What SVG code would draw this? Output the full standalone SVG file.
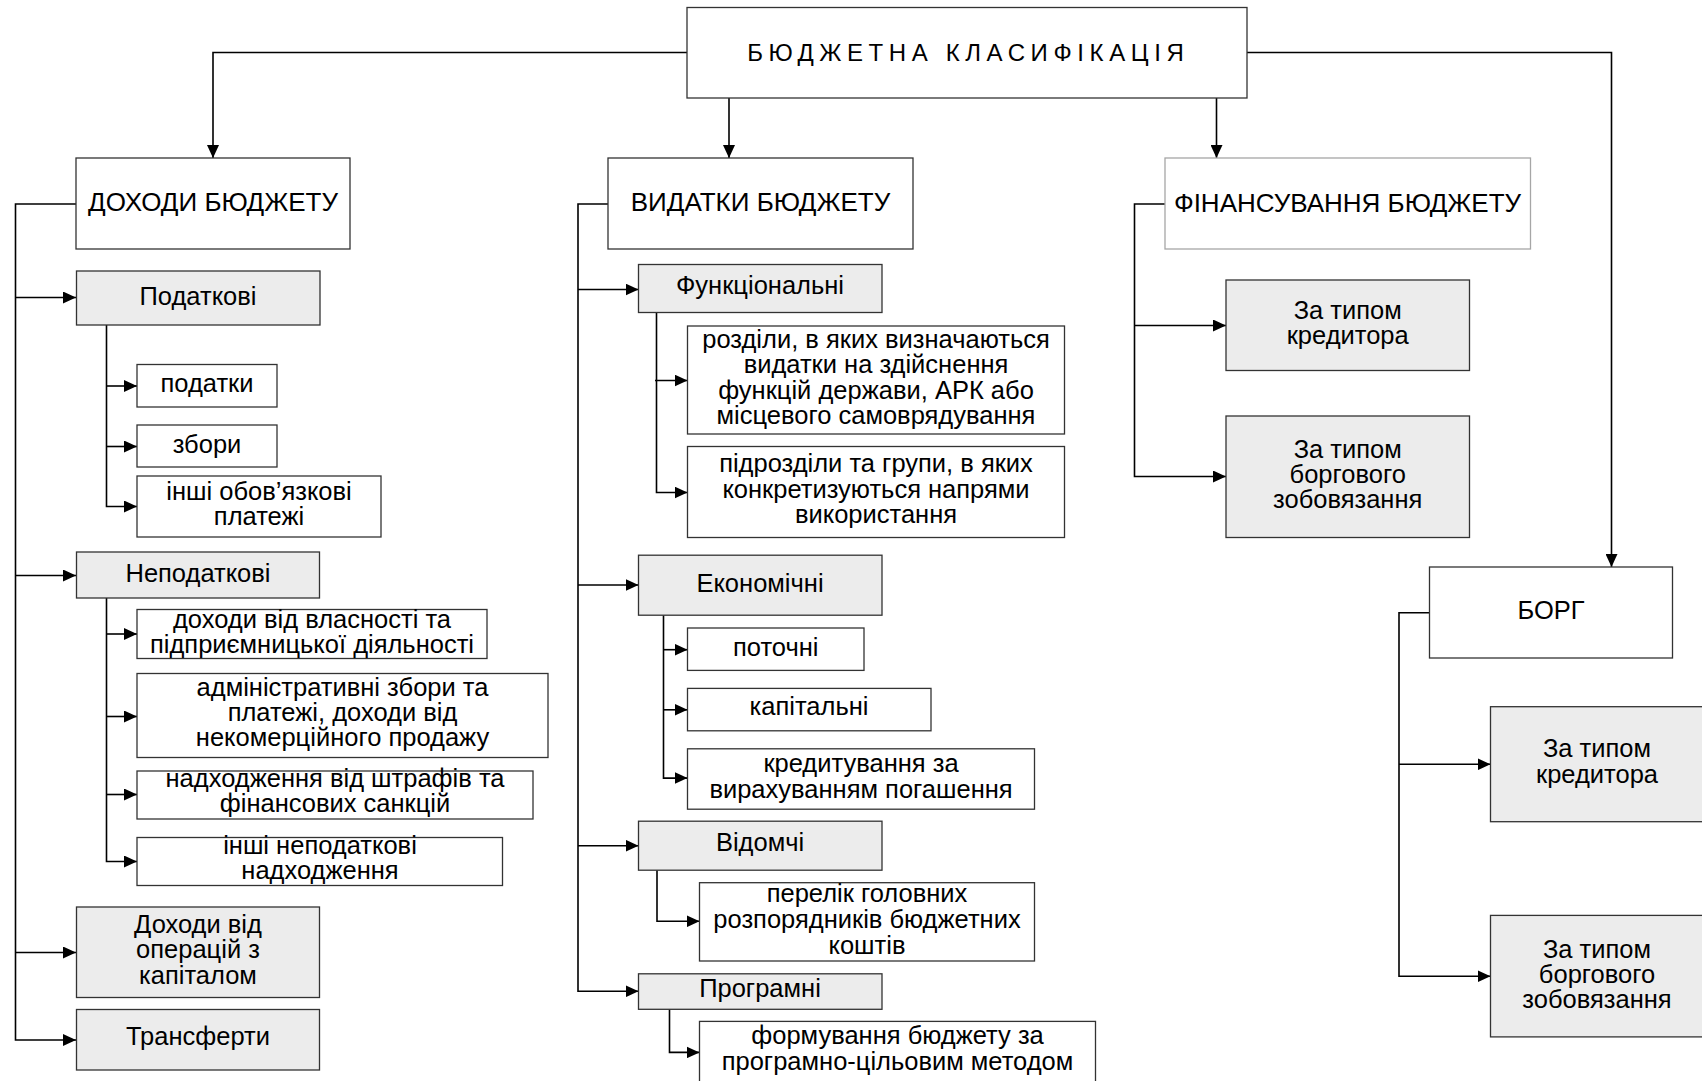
<svg xmlns="http://www.w3.org/2000/svg" width="1702" height="1081" viewBox="0 0 1702 1081">
  <style>
    .box { fill: #ffffff; stroke: #333333; stroke-width: 1.3; }
    .box.light { stroke: #a6a6a6; }
    .box.gray { fill: #ececec; }
    .t { font-family: "Liberation Sans", Arial, sans-serif; font-size: 25.5px; text-anchor: middle; fill: #000000; }
    .h { font-size: 26px; }
    .title { font-size: 24px; letter-spacing: 5.6px; }
    .conn path { fill: none; stroke: #000000; stroke-width: 1.6; }
  </style>
  <defs>
    <marker id="arrow" markerUnits="userSpaceOnUse" markerWidth="13" markerHeight="12" refX="13" refY="6" orient="auto">
      <path d="M0,0 L13,6 L0,12 z" fill="#000000"/>
    </marker>
  </defs>

  <rect width="1702" height="1081" fill="#ffffff"/>

  <!-- connectors -->
  <g id="connectors" class="conn">
    <!-- root to the four sections -->
    <path d="M687,52.5 H213 V158" marker-end="url(#arrow)"/>
    <path d="M729,98 V158" marker-end="url(#arrow)"/>
    <path d="M1216.5,98 V158" marker-end="url(#arrow)"/>
    <path d="M1247,52.5 H1611.5 V567" marker-end="url(#arrow)"/>

    <!-- revenues -->
    <path d="M76,204 H15.5 V1040 H76" marker-end="url(#arrow)"/>
    <path d="M15.5,297.5 H76" marker-end="url(#arrow)"/>
    <path d="M15.5,575.5 H76" marker-end="url(#arrow)"/>
    <path d="M15.5,952.5 H76" marker-end="url(#arrow)"/>
    <path d="M106.5,325 V506.5 H137" marker-end="url(#arrow)"/>
    <path d="M106.5,386 H137" marker-end="url(#arrow)"/>
    <path d="M106.5,446.5 H137" marker-end="url(#arrow)"/>
    <path d="M106.5,598 V861.5 H137" marker-end="url(#arrow)"/>
    <path d="M106.5,634 H137" marker-end="url(#arrow)"/>
    <path d="M106.5,716.5 H137" marker-end="url(#arrow)"/>
    <path d="M106.5,794.5 H137" marker-end="url(#arrow)"/>

    <!-- expenditures -->
    <path d="M608,204 H578 V991.3 H638.5" marker-end="url(#arrow)"/>
    <path d="M578,289.5 H638.5" marker-end="url(#arrow)"/>
    <path d="M578,585 H638.5" marker-end="url(#arrow)"/>
    <path d="M578,845.7 H638.5" marker-end="url(#arrow)"/>
    <path d="M656.5,312.5 V492.5 H687.5" marker-end="url(#arrow)"/>
    <path d="M655,380.5 H687.5" marker-end="url(#arrow)"/>
    <path d="M663.5,615.2 V778.1 H687.5" marker-end="url(#arrow)"/>
    <path d="M663.5,649.7 H687.5" marker-end="url(#arrow)"/>
    <path d="M663.5,709.8 H687.5" marker-end="url(#arrow)"/>
    <path d="M657,870.2 V921.3 H699.5" marker-end="url(#arrow)"/>
    <path d="M669.5,1009.3 V1052.4 H699.5" marker-end="url(#arrow)"/>

    <!-- financing -->
    <path d="M1165,204 H1134.5 V476.5 H1226" marker-end="url(#arrow)"/>
    <path d="M1134.5,325.5 H1226" marker-end="url(#arrow)"/>

    <!-- debt -->
    <path d="M1429.5,612.8 H1399 V976.2 H1490.5" marker-end="url(#arrow)"/>
    <path d="M1399,764.3 H1490.5" marker-end="url(#arrow)"/>
  </g>

  <!-- root -->
  <g id="root">
    <rect class="box" x="687" y="7.5" width="560" height="90.5"/>
    <text class="t title" x="968.3" y="61">БЮДЖЕТНА КЛАСИФІКАЦІЯ</text>
  </g>

  <!-- section headers -->
  <g id="revenues">
    <rect class="box" x="76" y="158" width="274" height="91"/>
    <text class="t h" x="213" y="211">ДОХОДИ БЮДЖЕТУ</text>
  </g>
  <g id="expenditures">
    <rect class="box" x="608" y="158" width="305" height="91"/>
    <text class="t h" x="760.5" y="211">ВИДАТКИ БЮДЖЕТУ</text>
  </g>
  <g id="financing">
    <rect class="box light" x="1165" y="158" width="365.5" height="91"/>
    <text class="t h" x="1347.5" y="211.5">ФІНАНСУВАННЯ БЮДЖЕТУ</text>
  </g>
  <g id="debt">
    <rect class="box" x="1429.5" y="567" width="243" height="91"/>
    <text class="t" x="1551" y="618.5">БОРГ</text>
  </g>

  <!-- revenues branch -->
  <g id="rev-tax">
    <rect class="box gray" x="76.5" y="271" width="243.5" height="54"/>
    <text class="t" x="198" y="305">Податкові</text>
  </g>
  <g id="rev-taxes">
    <rect class="box" x="137" y="364.5" width="140" height="42.5"/>
    <text class="t" x="207" y="392">податки</text>
  </g>
  <g id="rev-fees">
    <rect class="box" x="137" y="425" width="140" height="42"/>
    <text class="t" x="207" y="453">збори</text>
  </g>
  <g id="rev-other-payments">
    <rect class="box" x="137" y="476" width="244" height="61"/>
    <text class="t" x="259"><tspan x="259" y="500">інші обов’язкові</tspan><tspan x="259" y="525">платежі</tspan></text>
  </g>
  <g id="rev-nontax">
    <rect class="box gray" x="76.5" y="552" width="243" height="46"/>
    <text class="t" x="198" y="582">Неподаткові</text>
  </g>
  <g id="rev-property">
    <rect class="box" x="137" y="609.5" width="350" height="49"/>
    <text class="t" x="312"><tspan x="312" y="627.5">доходи від власності та</tspan><tspan x="312" y="652.5">підприємницької діяльності</tspan></text>
  </g>
  <g id="rev-admin">
    <rect class="box" x="137" y="673.5" width="411" height="84"/>
    <text class="t" x="342.5"><tspan x="342.5" y="696">адміністративні збори та</tspan><tspan x="342.5" y="721">платежі, доходи від</tspan><tspan x="342.5" y="746">некомерційного продажу</tspan></text>
  </g>
  <g id="rev-fines">
    <rect class="box" x="137" y="771" width="396" height="48"/>
    <text class="t" x="335"><tspan x="335" y="786.5">надходження від штрафів та</tspan><tspan x="335" y="811.5">фінансових санкцій</tspan></text>
  </g>
  <g id="rev-other-nontax">
    <rect class="box" x="137" y="837.5" width="365.5" height="48"/>
    <text class="t" x="320"><tspan x="320" y="853.5">інші неподаткові</tspan><tspan x="320" y="879">надходження</tspan></text>
  </g>
  <g id="rev-capital">
    <rect class="box gray" x="76.5" y="907" width="243" height="90.5"/>
    <text class="t" x="198"><tspan x="198" y="932.5">Доходи від</tspan><tspan x="198" y="958">операцій з</tspan><tspan x="198" y="983.5">капіталом</tspan></text>
  </g>
  <g id="rev-transfers">
    <rect class="box gray" x="76.5" y="1009.5" width="243" height="60.5"/>
    <text class="t" x="198" y="1045">Трансферти</text>
  </g>

  <!-- expenditures branch -->
  <g id="exp-functional">
    <rect class="box gray" x="638.5" y="264.5" width="243.5" height="48"/>
    <text class="t" x="760" y="294">Функціональні</text>
  </g>
  <g id="exp-sections">
    <rect class="box" x="687.5" y="326" width="377" height="108"/>
    <text class="t" x="876"><tspan x="876" y="347.5">розділи, в яких визначаються</tspan><tspan x="876" y="373">видатки на здійснення</tspan><tspan x="876" y="398.5">функцій держави, АРК або</tspan><tspan x="876" y="424">місцевого самоврядування</tspan></text>
  </g>
  <g id="exp-subsections">
    <rect class="box" x="687.5" y="446.5" width="377" height="91"/>
    <text class="t" x="876"><tspan x="876" y="472">підрозділи та групи, в яких</tspan><tspan x="876" y="497.5">конкретизуються напрями</tspan><tspan x="876" y="523">використання</tspan></text>
  </g>
  <g id="exp-economic">
    <rect class="box gray" x="638.5" y="555.2" width="243.5" height="60"/>
    <text class="t" x="760" y="591.5">Економічні</text>
  </g>
  <g id="exp-current">
    <rect class="box" x="687.5" y="628" width="176.5" height="42.4"/>
    <text class="t" x="775.7" y="655.5">поточні</text>
  </g>
  <g id="exp-capital">
    <rect class="box" x="687.5" y="688.4" width="243.5" height="42.4"/>
    <text class="t" x="809" y="715.3">капітальні</text>
  </g>
  <g id="exp-lending">
    <rect class="box" x="687.5" y="748.8" width="347" height="60.4"/>
    <text class="t" x="861"><tspan x="861" y="772">кредитування за</tspan><tspan x="861" y="798">вирахуванням погашення</tspan></text>
  </g>
  <g id="exp-departmental">
    <rect class="box gray" x="638.5" y="821.2" width="243.5" height="49"/>
    <text class="t" x="760" y="850.5">Відомчі</text>
  </g>
  <g id="exp-managers">
    <rect class="box" x="699.5" y="882.7" width="335" height="78.3"/>
    <text class="t" x="867"><tspan x="867" y="901.6">перелік головних</tspan><tspan x="867" y="928">розпорядників бюджетних</tspan><tspan x="867" y="954">коштів</tspan></text>
  </g>
  <g id="exp-program">
    <rect class="box gray" x="638.5" y="973.8" width="243.5" height="35.5"/>
    <text class="t" x="760" y="997">Програмні</text>
  </g>
  <g id="exp-program-method">
    <rect class="box" x="699.5" y="1021.4" width="396" height="70"/>
    <text class="t" x="897.5"><tspan x="897.5" y="1043.8">формування бюджету за</tspan><tspan x="897.5" y="1069.7">програмно-цільовим методом</tspan></text>
  </g>

  <!-- financing branch -->
  <g id="fin-creditor">
    <rect class="box gray" x="1226" y="280" width="243.5" height="90.5"/>
    <text class="t" x="1347.7"><tspan x="1347.7" y="318.5">За типом</tspan><tspan x="1347.7" y="344">кредитора</tspan></text>
  </g>
  <g id="fin-obligation">
    <rect class="box gray" x="1226" y="416" width="243.5" height="121.5"/>
    <text class="t" x="1347.7"><tspan x="1347.7" y="457.5">За типом</tspan><tspan x="1347.7" y="482.5">боргового</tspan><tspan x="1347.7" y="508">зобовязання</tspan></text>
  </g>

  <!-- debt branch -->
  <g id="debt-creditor">
    <rect class="box gray" x="1490.5" y="706.7" width="213" height="115"/>
    <text class="t" x="1597"><tspan x="1597" y="757.4">За типом</tspan><tspan x="1597" y="783.3">кредитора</tspan></text>
  </g>
  <g id="debt-obligation">
    <rect class="box gray" x="1490.5" y="915.4" width="213" height="121.5"/>
    <text class="t" x="1597"><tspan x="1597" y="957.5">За типом</tspan><tspan x="1597" y="983.4">боргового</tspan><tspan x="1597" y="1008">зобовязання</tspan></text>
  </g>
</svg>
